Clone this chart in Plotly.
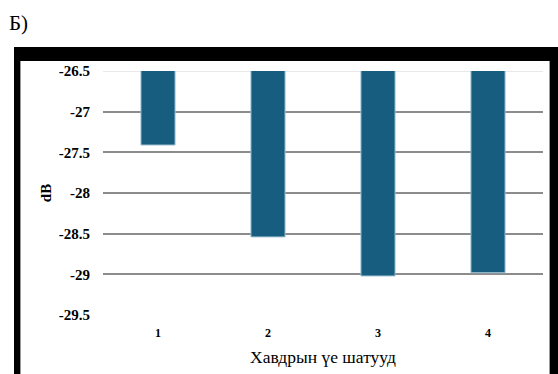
import plotly.graph_objects as go

# Stages and mean dB values
stages = ['1', '2', '3', '4']
db_values = [-27.41, -28.54, -29.02, -28.98]

y_min, y_max = -29.5, -26.5
y_ticks = [-26.5, -27, -27.5, -28, -28.5, -29, -29.5]
y_tick_labels = ['-26.5', '-27', '-27.5', '-28', '-28.5', '-29', '-29.5']

W, H = 558, 374
L, R, T, B = 103, 15, 71, 59


def px_x(px):
    # pixel -> paper x
    return (px - L) / (W - L - R)


def px_y(py):
    # pixel -> paper y
    return (H - B - py) / (H - T - B)


serif = 'Liberation Serif'

fig = go.Figure(go.Bar(
    x=stages,
    y=db_values,
    width=0.31,
    marker=dict(color='#175d80', line=dict(color='#9dc0d2', width=1)),
))

fig.update_layout(
    width=W, height=H,
    margin=dict(l=L, r=R, t=T, b=B),
    paper_bgcolor='white',
    plot_bgcolor='white',
    showlegend=False,
    font=dict(family=serif, color='black'),
)

fig.update_xaxes(
    type='category',
    showgrid=False,
    showline=False,
    ticks='',
    ticklabelstandoff=9,
    tickfont=dict(family=serif, size=12, weight='bold'),
    title=dict(text='Хавдрын үе шатууд', font=dict(family=serif, size=17.5), standoff=11),
)

fig.update_yaxes(
    range=[y_min, y_max],
    tickvals=y_ticks,
    ticktext=y_tick_labels,
    showgrid=True,
    gridcolor='#8c8c8c',
    gridwidth=1.5,
    zeroline=False,
    showline=False,
    ticks='',
    ticklabelstandoff=12,
    tickfont=dict(family=serif, size=15, weight='bold'),
    title=dict(text='dB', font=dict(family=serif, size=15, weight='bold'), standoff=3),
)

# light top gridline at the axis maximum
fig.add_shape(type='line', xref='paper', yref='y', x0=0, x1=1, y0=y_max, y1=y_max,
              line=dict(color='#e2e2e2', width=1.5), layer='below')

# black frame around the chart (as in the source figure)
frame = [
    (14, 47, 558, 61),   # top band
    (14, 47, 20, 374),   # left band
    (550, 47, 558, 374), # right band
]
for x0, y0, x1, y1 in frame:
    fig.add_shape(type='rect', xref='paper', yref='paper',
                  x0=px_x(x0), x1=px_x(x1), y0=px_y(y0), y1=px_y(y1),
                  fillcolor='black', line=dict(width=0), layer='above')

# thin grey inner edge of the frame
fig.add_shape(type='line', xref='paper', yref='paper',
              x0=px_x(20.5), x1=px_x(20.5), y0=px_y(61), y1=px_y(374),
              line=dict(color='#9a9a9a', width=1))
fig.add_shape(type='line', xref='paper', yref='paper',
              x0=px_x(549.5), x1=px_x(549.5), y0=px_y(61), y1=px_y(374),
              line=dict(color='#9a9a9a', width=1))

# panel label
fig.add_annotation(text='Б)', xref='paper', yref='paper',
                   x=px_x(7), y=px_y(23), xanchor='left', yanchor='middle',
                   showarrow=False, font=dict(family=serif, size=21, color='black'))

fig.write_html('out.html',
               config={'displayModeBar': False},
               post_script="document.body.style.margin='0';document.body.style.overflow='hidden';")
